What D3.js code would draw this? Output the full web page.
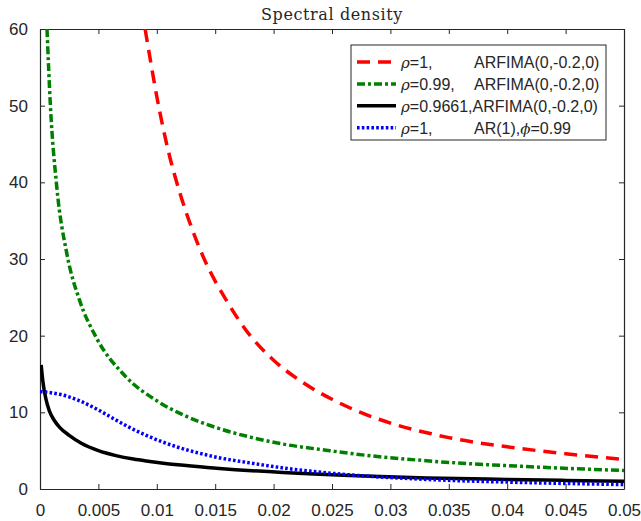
<!DOCTYPE html>
<html>
<head>
<meta charset="utf-8">
<script src="https://cdn.jsdelivr.net/npm/d3@7"></script>
<style>
  body { margin: 0; background: #fff; }
  svg text { font-family: "Liberation Sans", Arial, sans-serif; fill: #262626; }
</style>
</head>
<body>
<div id="chart"></div>
<script>
// values
var xTicks = [0, 0.005, 0.01, 0.015, 0.02, 0.025, 0.03, 0.035, 0.04, 0.045, 0.05];
var yTicks = [0, 10, 20, 30, 40, 50, 60];

var freqRed = [0.009, 0.0095, 0.01, 0.011, 0.012, 0.013, 0.014, 0.016, 0.018, 0.02, 0.0225, 0.025, 0.0275, 0.03, 0.0335, 0.035, 0.04, 0.045, 0.05];
var specRed = [60, 55.5, 51.2, 44.0, 38.5, 34.0, 30.2, 24.5, 20.0, 16.8, 13.9, 11.7, 9.95, 8.6, 7.2, 6.7, 5.5, 4.6, 3.85];

var freqGreen = [0.0006, 0.00088, 0.00143, 0.00231, 0.00337, 0.0048, 0.00725, 0.01, 0.0125, 0.0151, 0.018, 0.0208, 0.0248, 0.0265, 0.0331, 0.042, 0.05];
var specGreen = [60, 50.3, 39.5, 30.6, 24.7, 19.8, 14.8, 11.5, 9.5, 8.0, 6.77, 5.86, 5.0, 4.65, 3.68, 2.9, 2.42];

var freqBlack = [0.0001, 0.00025, 0.0005, 0.0008, 0.0012, 0.0017, 0.0025, 0.0035, 0.005, 0.0065, 0.008, 0.0094, 0.0118, 0.0151, 0.0208, 0.0265, 0.0331, 0.04, 0.045, 0.05];
var specBlack = [16.2, 14.0, 11.8, 10.2, 9.0, 8.0, 7.0, 6.0, 5.0, 4.35, 3.9, 3.6, 3.15, 2.72, 2.15, 1.75, 1.45, 1.25, 1.12, 1.02];

var freqBlue = [0, 0.0017, 0.0034, 0.005, 0.0065, 0.0077, 0.0094, 0.0118, 0.0137, 0.0151, 0.018, 0.0208, 0.0265, 0.0331, 0.04, 0.045, 0.05];
var specBlue = [12.7, 12.35, 11.5, 10.3, 9.0, 8.0, 6.8, 5.45, 4.65, 4.15, 3.4, 2.75, 1.85, 1.25, 0.9, 0.72, 0.58];

var width = 641, height = 521;
var margin = {top: 29, right: 17, bottom: 32, left: 40};
var w = width - margin.left - margin.right;
var h = height - margin.top - margin.bottom;
var axisColor = '#262626';

var svg = d3.select('#chart').append('svg')
    .attr('width', width)
    .attr('height', height);

var g = svg.append('g')
    .attr('transform', 'translate(' + margin.left + ',' + margin.top + ')');

var xScale = d3.scaleLinear().domain([0, 0.05]).range([0, w]);
var yScale = d3.scaleLinear().domain([0, 60]).range([h, 0]);

svg.append('defs').append('clipPath').attr('id', 'plot-clip')
    .append('rect').attr('width', w).attr('height', h);

// title
svg.append('text')
    .attr('x', margin.left + w / 2)
    .attr('y', 20)
    .attr('text-anchor', 'middle')
    .style('font-family', '"DejaVu Serif", serif')
    .style('font-size', '16px')
    .style('letter-spacing', '0.6px')
    .text('Spectral density');

// axes, ticks pointing inward on all four sides
var tickFmt = function(d) { return d3.format('~g')(d); };
g.append('g')
    .attr('transform', 'translate(0,' + h + ')')
    .call(d3.axisBottom(xScale).tickValues(xTicks).tickSizeInner(-5).tickSizeOuter(0).tickPadding(15).tickFormat(tickFmt));
g.append('g')
    .call(d3.axisLeft(yScale).tickValues(yTicks).tickSizeInner(-5).tickSizeOuter(0).tickPadding(12).tickFormat(tickFmt));
g.append('g')
    .call(d3.axisTop(xScale).tickValues(xTicks).tickSizeInner(-5).tickSizeOuter(0).tickFormat(''));
g.append('g')
    .attr('transform', 'translate(' + w + ',0)')
    .call(d3.axisRight(yScale).tickValues(yTicks).tickSizeInner(-5).tickSizeOuter(0).tickFormat(''));

g.selectAll('.domain').attr('stroke', axisColor).attr('stroke-width', 1.2);
g.selectAll('.tick line').attr('stroke', axisColor);
g.selectAll('.tick text')
    .style('font-size', '17px')
    .attr('fill', axisColor);

// curves
var series = [
    {x: freqRed, y: specRed, color: '#ff0000', dash: '13,8', width: 3.5},
    {x: freqGreen, y: specGreen, color: '#008000', dash: '8,3,3,3', width: 3.5},
    {x: freqBlack, y: specBlack, color: '#000000', dash: null, width: 3.5},
    {x: freqBlue, y: specBlue, color: '#0000ff', dash: '2.6,2.2', width: 3.5}
];

var line = d3.line()
    .x(function(d) { return xScale(d[0]); })
    .y(function(d) { return yScale(d[1]); })
    .curve(d3.curveMonotoneX);

var plot = g.append('g').attr('clip-path', 'url(#plot-clip)');
series.forEach(function(s) {
    plot.append('path')
        .datum(d3.zip(s.x, s.y))
        .attr('fill', 'none')
        .attr('stroke', s.color)
        .attr('stroke-width', s.width)
        .attr('stroke-dasharray', s.dash)
        .attr('d', line);
});

// legend
var legendLabels = [
    ['=1,', 'ARFIMA(0,-0.2,0)'],
    ['=0.99,', 'ARFIMA(0,-0.2,0)'],
    ['=0.9661,ARFIMA(0,-0.2,0)', null],
    ['=1,', 'AR(1),']
];
var legend = svg.append('g').attr('transform', 'translate(351,45)');
legend.append('rect')
    .attr('width', 255).attr('height', 95)
    .attr('fill', '#fff')
    .attr('stroke', axisColor)
    .attr('stroke-width', 1);

series.forEach(function(s, i) {
    var cy = 17 + i * 21.9;
    legend.append('line')
        .attr('x1', 6).attr('x2', 45)
        .attr('y1', cy).attr('y2', cy)
        .attr('stroke', s.color)
        .attr('stroke-width', s.width)
        .attr('stroke-dasharray', s.dash);
    var t = legend.append('text')
        .attr('x', 50).attr('y', cy + 6)
        .style('font-size', '16px');
    t.append('tspan')
        .style('font-family', '"DejaVu Serif", serif')
        .style('font-style', 'italic')
        .style('font-size', '15px')
        .text('ρ');
    t.append('tspan').text(legendLabels[i][0]);
    if (legendLabels[i][1]) {
        var t2 = legend.append('text')
            .attr('x', 123).attr('y', cy + 6)
            .style('font-size', '16px')
            .text(legendLabels[i][1]);
        if (i === 3) {
            t2.append('tspan')
                .style('font-family', '"DejaVu Serif", serif')
                .style('font-style', 'italic')
                .style('font-size', '15px')
                .text('ϕ');
            t2.append('tspan').text('=0.99');
        }
    }
});
</script>
</body>
</html>
